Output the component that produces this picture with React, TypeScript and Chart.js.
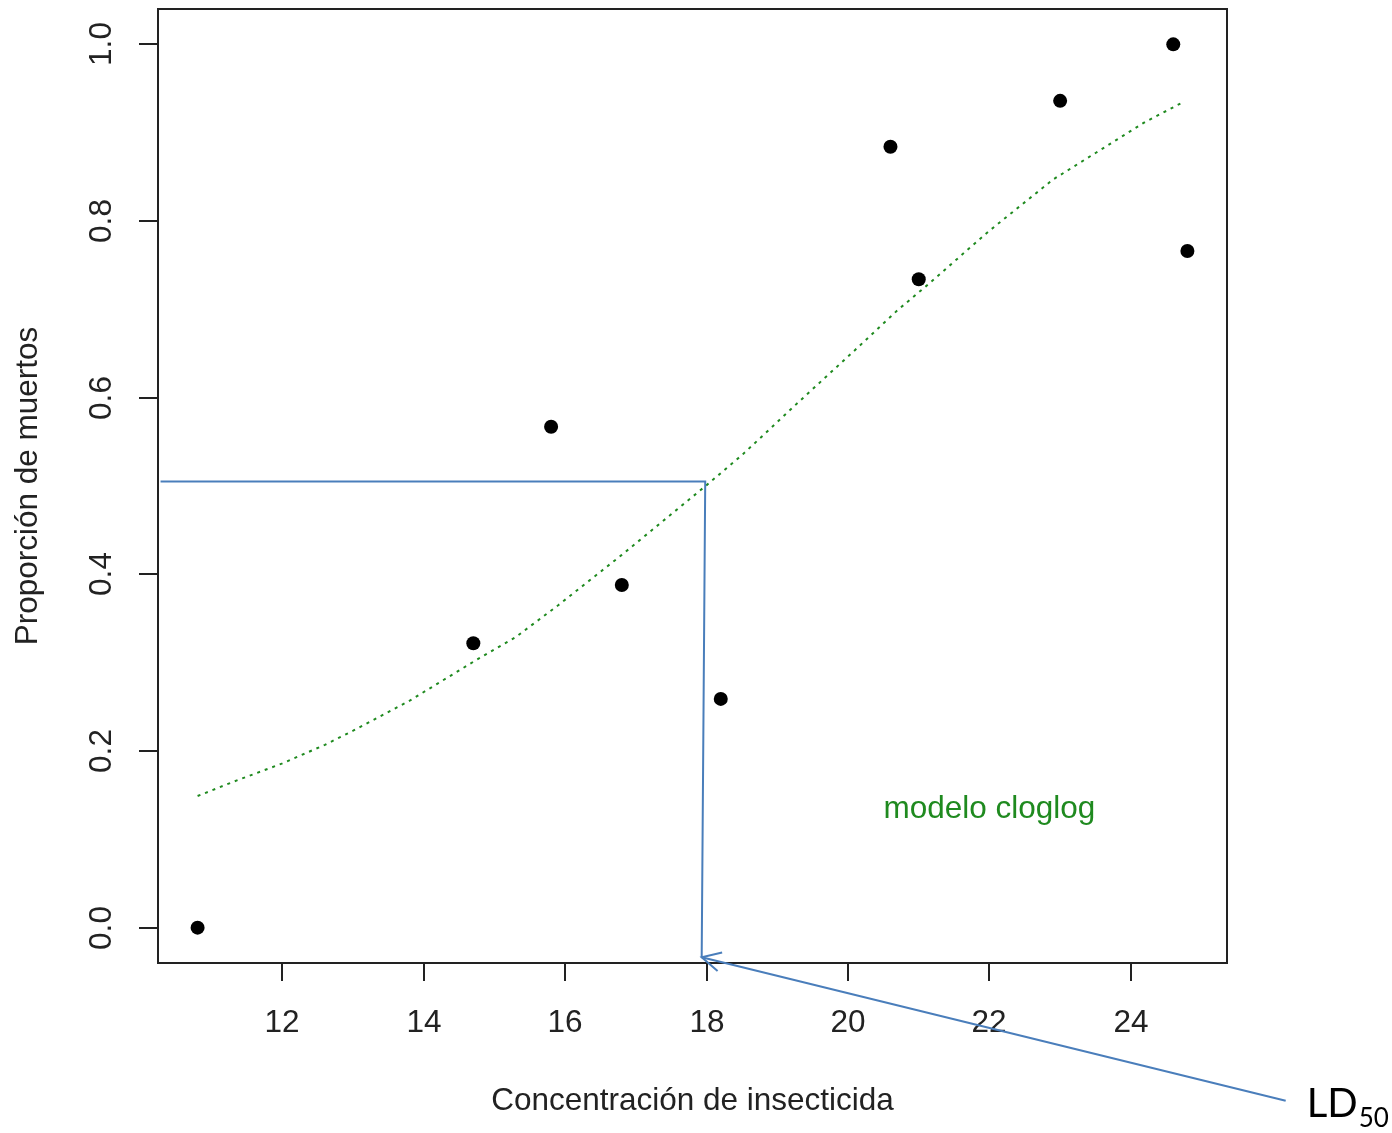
import React, { useEffect, useRef } from "react";
import { Chart, registerables } from "chart.js";

Chart.register(...registerables);

// Observed data
const concentration = [10.8, 14.7, 15.8, 16.8, 18.2, 20.6, 21.0, 23.0, 24.6, 24.8];
const proportionDead = [0.0, 0.322, 0.567, 0.388, 0.259, 0.884, 0.734, 0.936, 1.0, 0.766];

// Fitted cloglog curve
const curveX = [10.8, 11.3, 12.0, 12.6, 13.0, 13.8, 14.7, 15.3, 15.9, 16.8, 18.0, 18.5, 19.3, 20.1, 20.7, 21.1, 22.0, 22.9, 23.5, 24.2, 24.75];
const curveY = [0.149, 0.165, 0.186, 0.207, 0.223, 0.257, 0.301, 0.329, 0.365, 0.422, 0.501, 0.535, 0.595, 0.654, 0.699, 0.726, 0.789, 0.847, 0.877, 0.912, 0.935];

const xTicks = [12, 14, 16, 18, 20, 22, 24];
const yTicks = [0.0, 0.2, 0.4, 0.6, 0.8, 1.0];
const yTickLabels = ["0.0", "0.2", "0.4", "0.6", "0.8", "1.0"];

const xTitle = "Concentración de insecticida";
const yTitle = "Proporción de muertos";
const modelLabel = "modelo cloglog";

// LD50 annotation (data coordinates)
const ld50 = { x: 17.98, y: 0.505 };
const guideStartX = 10.276;
const arrowTip = { x: 17.93, y: -0.0335 };
const arrowTail = { x: 26.19, y: -0.196 };

const R_FONT = '"Liberation Sans", Arial, sans-serif';
const GREEN = "#1f8a1f";
const BLUE = "#4a7ebb";

const overlay = {
  id: "rOverlay",
  afterDraw(chart: any) {
    const { ctx, chartArea: a } = chart;
    const xs = chart.scales.x;
    const ys = chart.scales.y;
    ctx.save();

    // box
    ctx.strokeStyle = "#222";
    ctx.lineWidth = 2;
    ctx.strokeRect(a.left, a.top, a.right - a.left, a.bottom - a.top);

    // x ticks
    ctx.fillStyle = "#222";
    ctx.font = `31.5px ${R_FONT}`;
    ctx.textAlign = "center";
    ctx.textBaseline = "alphabetic";
    xTicks.forEach((v) => {
      const px = Math.round(xs.getPixelForValue(v));
      ctx.beginPath();
      ctx.moveTo(px, a.bottom);
      ctx.lineTo(px, a.bottom + 18);
      ctx.stroke();
      ctx.fillText(String(v), px, 1032);
    });

    // y ticks
    yTicks.forEach((v, i) => {
      const py = Math.round(ys.getPixelForValue(v));
      ctx.beginPath();
      ctx.moveTo(a.left, py);
      ctx.lineTo(a.left - 19, py);
      ctx.stroke();
      ctx.save();
      ctx.translate(111, py);
      ctx.rotate(-Math.PI / 2);
      ctx.fillText(yTickLabels[i], 0, 0);
      ctx.restore();
    });

    // axis titles
    ctx.fillText(xTitle, (a.left + a.right) / 2, 1110);
    ctx.save();
    ctx.translate(37, (a.top + a.bottom) / 2);
    ctx.rotate(-Math.PI / 2);
    ctx.fillText(yTitle, 0, 0);
    ctx.restore();

    // model label
    ctx.fillStyle = GREEN;
    ctx.fillText(modelLabel, xs.getPixelForValue(22), ys.getPixelForValue(0.124));

    // LD50 annotation
    ctx.strokeStyle = BLUE;
    ctx.lineWidth = 2;
    const hx0 = xs.getPixelForValue(guideStartX);
    const cx = xs.getPixelForValue(ld50.x);
    const cy = ys.getPixelForValue(ld50.y);
    const tx = xs.getPixelForValue(arrowTip.x);
    const ty = ys.getPixelForValue(arrowTip.y);
    const ax = xs.getPixelForValue(arrowTail.x);
    const ay = ys.getPixelForValue(arrowTail.y);
    ctx.beginPath();
    ctx.moveTo(hx0, cy);
    ctx.lineTo(cx, cy);
    ctx.lineTo(tx, ty);
    ctx.stroke();
    ctx.beginPath();
    ctx.moveTo(ax, ay);
    ctx.lineTo(tx, ty);
    ctx.stroke();
    const ang = Math.atan2(ay - ty, ax - tx);
    const wl = 21;
    const spread = (27 * Math.PI) / 180;
    ctx.beginPath();
    ctx.moveTo(tx + wl * Math.cos(ang - spread), ty + wl * Math.sin(ang - spread));
    ctx.lineTo(tx, ty);
    ctx.lineTo(tx + wl * Math.cos(ang + spread), ty + wl * Math.sin(ang + spread));
    ctx.stroke();

    // LD50 text
    ctx.fillStyle = "#000";
    ctx.textAlign = "left";
    ctx.font = `40px Lato, "Open Sans", sans-serif`;
    const lx = ax + 21;
    ctx.fillText("LD", lx, ay + 16);
    const w = ctx.measureText("LD").width;
    ctx.font = `26px Lato, "Open Sans", sans-serif`;
    ctx.fillText("50", lx + w + 1, ay + 26);

    ctx.restore();
  },
};

export default function App() {
  const ref = useRef<HTMLCanvasElement | null>(null);

  useEffect(() => {
    if (!ref.current) return;
    const chart = new Chart(ref.current, {
      type: "scatter",
      data: {
        datasets: [
          {
            label: "observed",
            data: concentration.map((x, i) => ({ x, y: proportionDead[i] })),
            backgroundColor: "#000",
            borderWidth: 0,
            pointRadius: 7,
            pointHoverRadius: 7,
            showLine: false,
          },
          {
            label: "cloglog",
            data: curveX.map((x, i) => ({ x, y: curveY[i] })),
            showLine: true,
            borderColor: GREEN,
            borderWidth: 2,
            borderDash: [3, 5],
            pointRadius: 0,
            fill: false,
            tension: 0,
          },
        ],
      },
      options: {
        animation: false,
        responsive: false,
        devicePixelRatio: 1,
        layout: { padding: { left: 158, top: 9, right: 165, bottom: 170 } },
        plugins: { legend: { display: false }, tooltip: { enabled: false } },
        events: [],
        scales: {
          x: { type: "linear", min: 10.24, max: 25.36, display: false },
          y: { type: "linear", min: -0.04, max: 1.04, display: false },
        },
      },
      plugins: [overlay],
    });
    return () => chart.destroy();
  }, []);

  return (
    <div style={{ position: "absolute", left: 0, top: 0, width: 1392, height: 1133, background: "#fff" }}>
      <canvas ref={ref} width={1392} height={1133} style={{ display: "block" }} />
    </div>
  );
}
